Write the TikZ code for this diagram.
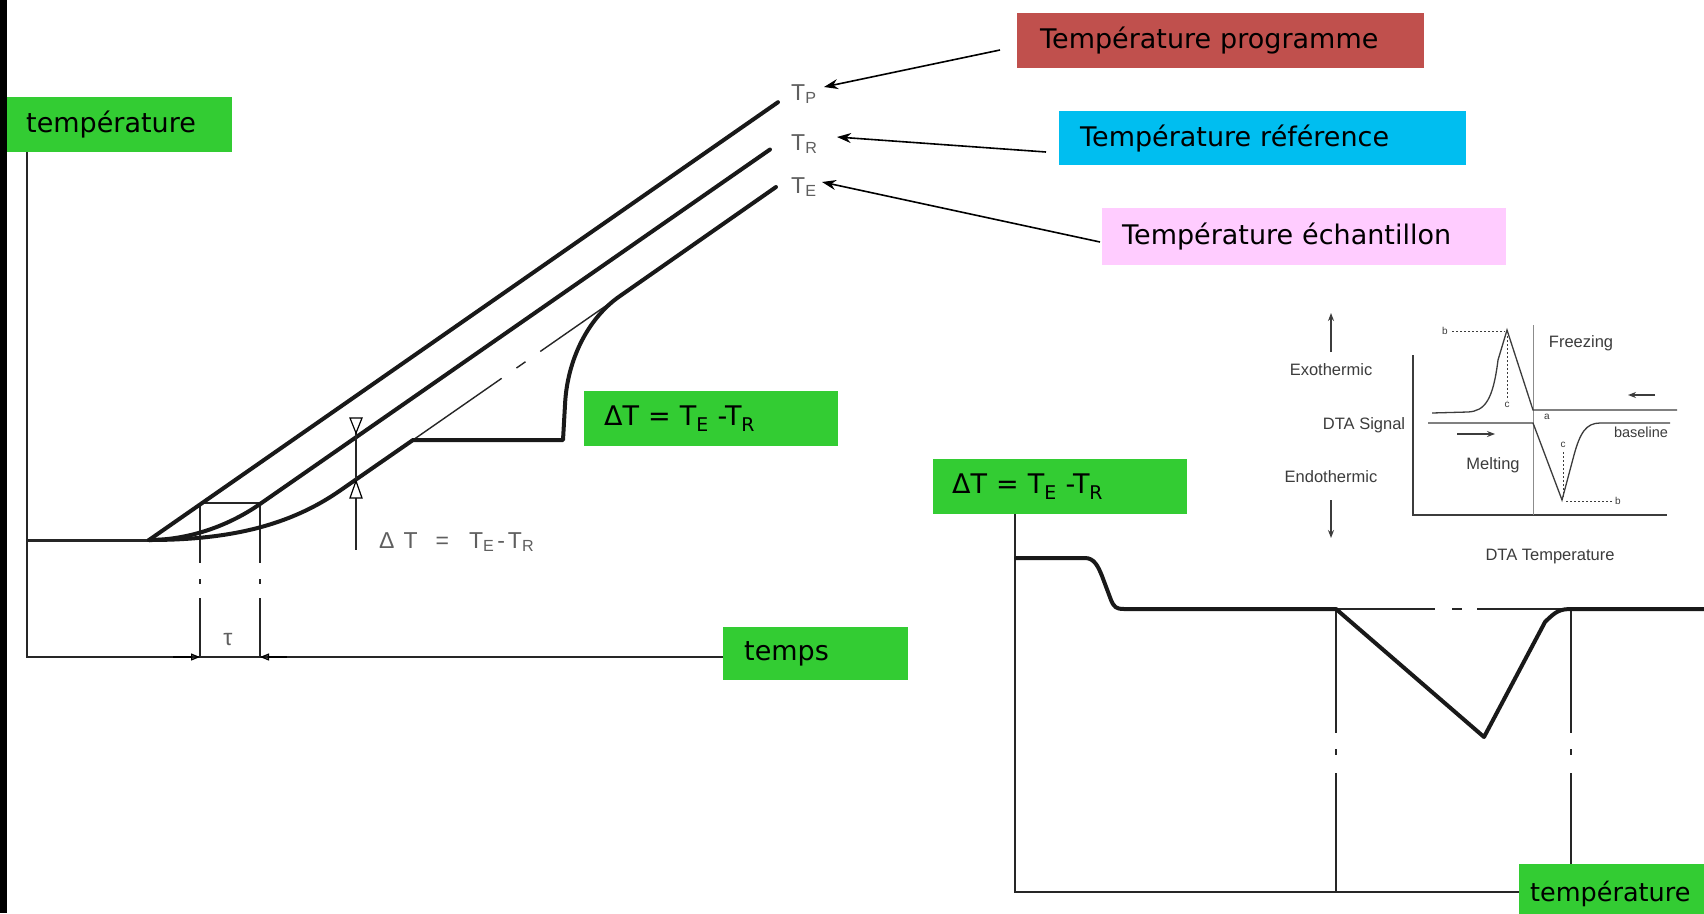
\documentclass[tikz,border=0pt]{standalone}
\usepackage{fontspec}
\setmainfont{DejaVu Sans}
\newfontfamily\arialf{Liberation Sans}
\usetikzlibrary{arrows.meta}
\definecolor{boxgreen}{RGB}{51,204,51}
\definecolor{boxred}{RGB}{192,80,77}
\definecolor{boxblue}{RGB}{0,190,240}
\definecolor{boxpink}{RGB}{255,204,255}
\definecolor{txtgray}{RGB}{95,95,95}
\definecolor{insetgray}{RGB}{60,60,60}
\tikzset{
  lbox/.style={rectangle, inner ysep=0pt, align=left, anchor=north west,
    font=\fontsize{27}{32}\selectfont, text=black},
  heavy/.style={line width=4pt, line join=round, line cap=round, black!90},
  axisline/.style={line width=2pt, black!85},
  thinline/.style={line width=1.4pt, black!85},
  glabel/.style={font=\arialf\fontsize{23}{26}\selectfont, text=txtgray, inner sep=0pt},
  ilabel/.style={font=\arialf\fontsize{16.5}{19}\selectfont, text=insetgray, inner sep=0pt},
  slabel/.style={font=\arialf\fontsize{10}{12}\selectfont, text=insetgray, inner sep=0pt},
  iline/.style={line width=1.3pt, insetgray},
  idot/.style={line width=0.9pt, insetgray, dash pattern=on 2pt off 2pt},
  arr/.style={line width=1.6pt, -{Stealth[length=14pt,width=10pt]}},
  iarr/.style={line width=1.2pt, insetgray, -{Stealth[length=8pt,width=6pt]}},
  dimarr/.style={line width=1.3pt, -{Triangle[open,length=9pt,width=7pt]}},
}
\begin{document}
\begin{tikzpicture}[x=1pt,y=-1pt]
\useasboundingbox (0,0) rectangle (1704,913);
\clip (0,0) rectangle (1704,913);
\fill[white] (0,0) rectangle (1704,913);
\fill[black] (0,0) rectangle (7,913);

% ---------- boxes ----------
\node[lbox, fill=boxgreen, minimum height=55pt, inner xsep=19pt, text width=187pt] (temp1) at (7,97) {température};
\node[lbox, fill=boxgreen, minimum height=53pt, inner xsep=21pt, text width=143pt] (temps) at (723,627) {temps};
\node[lbox, fill=boxgreen, minimum height=55pt, inner xsep=20pt, text width=214pt] (dt1) at (584,391) {ΔT = T\textsubscript{E} -T\textsubscript{R}};
\node[lbox, fill=boxgreen, minimum height=55pt, inner xsep=19pt, text width=216pt] (dt2) at (933,459) {ΔT = T\textsubscript{E} -T\textsubscript{R}};
\node[lbox, fill=boxgreen, minimum height=60pt, inner xsep=11pt, text width=200pt, font=\fontsize{25.5}{30}\selectfont] (temp2) at (1519,864) {température};
\node[lbox, fill=boxred, minimum height=55pt, inner xsep=23pt, text width=361pt] (prog) at (1017,13) {Température programme};
\node[lbox, fill=boxblue, minimum height=54pt, inner xsep=21pt, text width=365pt] (ref) at (1059,111) {Température référence};
\node[lbox, fill=boxpink, minimum height=57pt, inner xsep=20pt, text width=364pt] (ech) at (1102,208) {Température échantillon};

% ---------- left diagram ----------
\coordinate (O) at (27,657);
\coordinate (B0) at (27,540);
\coordinate (S) at (149,540);
\draw[axisline] (temp1.south -| O) -- (O) -- (temps.west |- O);
\draw[line width=3pt, black!85] (B0) -- (S);

% time-lag rectangle and dimension lines
\coordinate (RL) at (200,503);
\coordinate (RR) at (260,503);
\coordinate (RLb) at (200,657);
\coordinate (RRb) at (260,657);
\draw[thinline] (RL) -- (RR);
\draw[thinline, dash pattern=on 60pt off 16pt on 5pt off 14pt on 200pt] (RL) -- (RLb);
\draw[thinline, dash pattern=on 60pt off 16pt on 5pt off 14pt on 200pt] (RR) -- (RRb);
\coordinate (DL) at (173,657);
\coordinate (DR) at (287,657);
\draw[dimarr] (DL) -- (RLb);
\draw[dimarr] (DR) -- (RRb);
\node[glabel] (tau) at (228,640) {τ};

% dash-dot continuation of T_E
\coordinate (E1) at (413,440);
\coordinate (E2) at (620,296);
\draw[thinline, dash pattern=on 108pt off 18pt on 11pt off 18pt on 200pt] (E1) -- (E2);

% the three temperature curves
\coordinate (Pend) at (778,102.2);
\coordinate (Rend) at (770,149.5);
\coordinate (Eend) at (776,187);
\draw[heavy] (S) -- (Pend);
\draw[heavy] (S) .. controls (190,540) and (230,525) .. (260,504) -- (Rend);
\draw[heavy] (S) .. controls (230,540) and (290,525.4) .. (340,490.6) -- (E1)
  -- (563,440) -- (565,405) .. controls (567,360) and (588,318) .. (E2) -- (Eend);

% Delta T marker
\coordinate (M1) at (356,418);
\coordinate (M2) at (356,550);
\draw[thinline] (M1) -- (M2);
\draw[line width=1.2pt, fill=white] (350,418) -- (362,418) -- (356,433) -- cycle;
\draw[line width=1.2pt, fill=white] (350,498) -- (362,498) -- (356,481) -- cycle;
\node[glabel, anchor=base west] (dtl) at (379,548) {Δ\hspace{9pt}T\hspace{18pt}=\hspace{20pt}T\textsubscript{E}\hspace{3pt}-\hspace{3pt}T\textsubscript{R}};

% T labels
\node[glabel, anchor=base west] (tp) at (791,100) {T\textsubscript{P}};
\node[glabel, anchor=base west] (tr) at (791,150) {T\textsubscript{R}};
\node[glabel, anchor=base west] (te) at (791,193) {T\textsubscript{E}};

% arrows from the boxes
\coordinate (pa) at (1000,50);
\coordinate (ph) at (824,87);
\coordinate (ra) at (1046,152);
\coordinate (rh) at (837,137);
\coordinate (ea) at (1100,242);
\coordinate (eh) at (822,182);
\draw[arr] (pa) -- (ph);
\draw[arr] (ra) -- (rh);
\draw[arr] (ea) -- (eh);

% ---------- right diagram ----------
\coordinate (O2) at (1015,892);
\draw[axisline] (dt2.south -| O2) -- (O2) -- (temp2.west |- O2);
\coordinate (VL) at (1336,609);
\coordinate (VR) at (1571,609);
\coordinate (VLb) at (1336,892);
\coordinate (VRb) at (1571,864);
\draw[thinline, dash pattern=on 124pt off 16pt on 6pt off 18pt on 300pt] (VL) -- (VLb);
\draw[thinline, dash pattern=on 124pt off 16pt on 6pt off 18pt on 300pt] (VR) -- (VRb);
\draw[thinline, dash pattern=on 99pt off 17pt on 10pt off 15pt on 200pt] (VL) -- (VR);
\draw[heavy] (1016,558) -- (1085,558) .. controls (1094,558) and (1098,566) .. (1102,576)
  -- (1111,600) .. controls (1114,607) and (1116,609) .. (1124,609) -- (VL)
  -- (1484,737) -- (1545,622) .. controls (1556,611) and (1560,609) .. (1572,609) -- (1704,609);

% ---------- DTA inset ----------
\node[ilabel] (exo) at (1331,370) {Exothermic};
\node[ilabel] (sig) at (1364,425) {DTA Signal};
\node[ilabel] (endo) at (1331,477) {Endothermic};
\coordinate (ua) at (1331,352);
\coordinate (uh) at (1331,313);
\coordinate (da) at (1331,500);
\coordinate (dh) at (1331,538);
\draw[iarr] (ua) -- (uh);
\draw[iarr] (da) -- (dh);
\coordinate (IA) at (1413,355);
\coordinate (IO) at (1413,515);
\coordinate (IX) at (1667,515);
\draw[iline] (IA) -- (IO) -- (IX);
\coordinate (DV1) at (1533,325);
\coordinate (DV2) at (1533,515);
\draw[line width=0.8pt, black!45] (DV1) -- (DV2);
\draw[iline] (1432,413) -- (1468,412) .. controls (1485,411) and (1493,400) .. (1498,360)
  -- (1507,330) -- (1533,410) -- (1677,410);
\draw[iline] (1428,423) -- (1533,423) -- (1562,500) -- (1574,455)
  .. controls (1580,433) and (1586,423) .. (1600,423) -- (1670,423);
\node[slabel] (b1) at (1445,331) {b};
\draw[idot] (1452,331) -- (1505,331);
\draw[idot] (1507,336) -- (1507,400);
\node[slabel] (c1) at (1507,405) {c};
\node[slabel] (a1) at (1547,417) {a};
\node[slabel] (c2) at (1563,445) {c};
\draw[idot] (1563,452) -- (1563,497);
\draw[idot] (1566,501) -- (1612,501);
\node[slabel] (b2) at (1618,501) {b};
\coordinate (ma) at (1457,434);
\coordinate (mh) at (1495,434);
\draw[iarr] (ma) -- (mh);
\coordinate (fa) at (1655,395);
\coordinate (fh) at (1628,395);
\draw[iarr] (fa) -- (fh);
\node[ilabel] (frz) at (1581,343) {Freezing};
\node[ilabel] (mlt) at (1493,465) {Melting};
\node[ilabel, font=\arialf\fontsize{14.5}{17}\selectfont] (bsl) at (1641,432) {baseline};
\node[ilabel] (dtat) at (1550,557) {DTA Temperature};
\end{tikzpicture}
\end{document}
